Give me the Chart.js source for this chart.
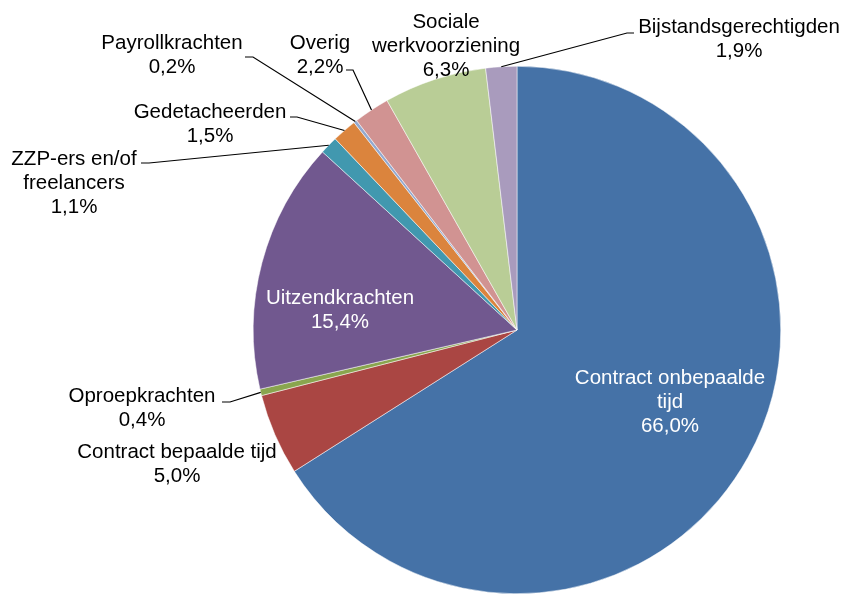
<!DOCTYPE html>
<html>
<head>
<meta charset="utf-8">
<script src="https://cdn.jsdelivr.net/npm/chart.js@4/dist/chart.umd.min.js"></script>
<style>
  html, body { margin: 0; padding: 0; background: #fff; }
  #wrap { width: 845px; height: 594px; }
</style>
</head>
<body>
<div id="wrap"><canvas id="c" width="845" height="594"></canvas></div>
<script>
// Categories (clockwise from 12 o'clock); "\n" marks where the label wraps
const categories = [
  'Contract onbepaalde\ntijd',
  'Contract bepaalde tijd',
  'Oproepkrachten',
  'Uitzendkrachten',
  'ZZP-ers en/of\nfreelancers',
  'Gedetacheerden',
  'Payrollkrachten',
  'Overig',
  'Sociale\nwerkvoorziening',
  'Bijstandsgerechtigden'
];
// Share of the workforce, in percent
const shares = [66.0, 5.0, 0.4, 15.4, 1.1, 1.5, 0.2, 2.2, 6.3, 1.9];

const sliceColors = [
  '#4572A7', '#AA4643', '#89A54E', '#71588F', '#4198AF',
  '#DB843D', '#93A9CF', '#D19392', '#B9CD96', '#A99BBD'
];

// Label placement: centre x, y of first line, text colour, optional leader elbow
const labelLayout = [
  { x: 670, y: 378, color: '#ffffff' },
  { x: 177, y: 452, color: '#000000' },
  { x: 142, y: 396, color: '#000000', leader: [[222, 402], [230, 402]] },
  { x: 340, y: 298, color: '#ffffff' },
  { x: 74,  y: 159, color: '#000000', leader: [[141, 163], [149, 163]] },
  { x: 210, y: 112, color: '#000000', leader: [[290, 117], [297, 117]] },
  { x: 172, y: 43,  color: '#000000', leader: [[245, 57], [253, 57]] },
  { x: 320, y: 43,  color: '#000000', leader: [[346, 70], [353, 70]] },
  { x: 446, y: 22,  color: '#000000' },
  { x: 739, y: 27,  color: '#000000', leader: [[634, 33], [627, 33]] }
];

const fmt = v => v.toFixed(1).replace('.', ',') + '%';

const labelPlugin = {
  id: 'sliceLabels',
  afterDatasetsDraw(chart) {
    const ctx = chart.ctx;
    const meta = chart.getDatasetMeta(0);
    ctx.save();
    ctx.font = '20.5px "Liberation Sans", Arial, sans-serif';
    ctx.textAlign = 'center';
    ctx.textBaseline = 'middle';
    meta.data.forEach((arc, i) => {
      const lay = labelLayout[i];
      const p = arc.getProps(['x', 'y', 'startAngle', 'endAngle', 'outerRadius'], true);
      if (lay.leader) {
        const mid = (p.startAngle + p.endAngle) / 2;
        const ex = p.x + Math.cos(mid) * p.outerRadius;
        const ey = p.y + Math.sin(mid) * p.outerRadius;
        ctx.beginPath();
        ctx.strokeStyle = '#000000';
        ctx.lineWidth = 1.2;
        ctx.moveTo(lay.leader[0][0], lay.leader[0][1]);
        ctx.lineTo(lay.leader[1][0], lay.leader[1][1]);
        ctx.lineTo(ex, ey);
        ctx.stroke();
      }
      const lines = categories[i].split('\n').concat([fmt(shares[i])]);
      ctx.fillStyle = lay.color;
      lines.forEach((t, k) => ctx.fillText(t, lay.x, lay.y + k * 24));
    });
    ctx.restore();
  }
};

new Chart(document.getElementById('c'), {
  type: 'pie',
  data: {
    labels: categories,
    datasets: [{
      data: shares,
      backgroundColor: sliceColors,
      borderColor: '#ffffff',
      borderWidth: 0.5
    }]
  },
  options: {
    responsive: false,
    animation: false,
    layout: { padding: { left: 253, right: 64, top: 66, bottom: 0 } },
    plugins: {
      legend: { display: false },
      tooltip: { enabled: false }
    }
  },
  plugins: [labelPlugin]
});
</script>
</body>
</html>
